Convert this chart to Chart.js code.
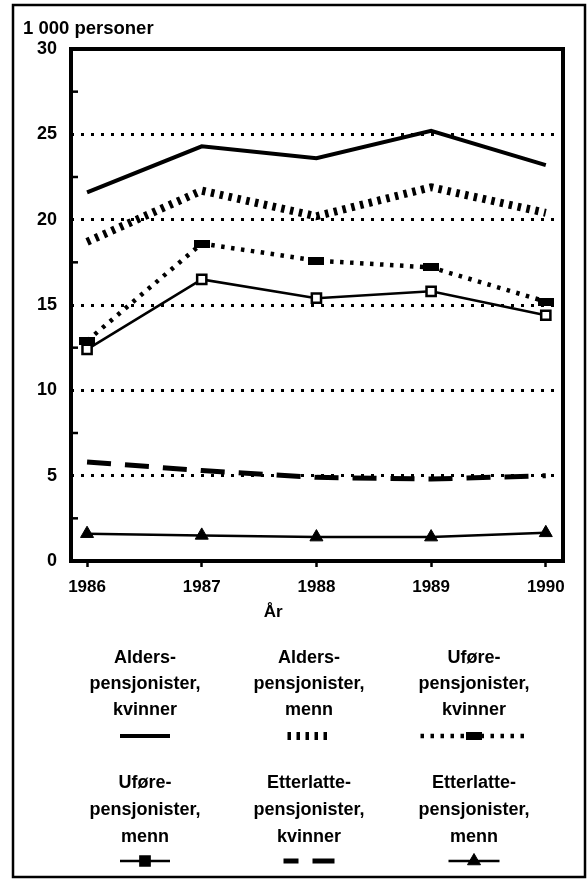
<!DOCTYPE html>
<html><head><meta charset="utf-8">
<script src="https://cdn.jsdelivr.net/npm/chart.js@4/dist/chart.umd.min.js"></script>
<style>html,body{margin:0;padding:0;background:#fff}#wrap{width:587px;height:880px}</style>
</head><body><div id="wrap"><canvas id="c" width="587" height="880"></canvas></div>
<script>
// ---- data ----
const years = [1986, 1987, 1988, 1989, 1990];
const yTicks = [0, 5, 10, 15, 20, 25, 30];
const aldersKvinner = [21.6, 24.3, 23.6, 25.2, 23.2];
const aldersMenn = [18.7, 21.7, 20.2, 21.9, 20.4];
const uforeKvinner = [12.9, 18.6, 17.6, 17.2, 15.2];
const uforeMenn = [12.4, 16.5, 15.4, 15.8, 14.4];
const etterlatteKvinner = [5.8, 5.3, 4.9, 4.8, 5.0];
const etterlatteMenn = [1.6, 1.5, 1.4, 1.4, 1.65];
const seriesLabels = [
  ["Alders-", "pensjonister,", "kvinner"],
  ["Alders-", "pensjonister,", "menn"],
  ["Uføre-", "pensjonister,", "kvinner"],
  ["Uføre-", "pensjonister,", "menn"],
  ["Etterlatte-", "pensjonister,", "kvinner"],
  ["Etterlatte-", "pensjonister,", "menn"]
];
const yTitle = "1 000 personer";
const xTitle = "År";

const FONT = '"Liberation Sans", Arial, Helvetica, sans-serif';

function barMarker() {
  const c = document.createElement('canvas');
  c.width = 16; c.height = 8;
  const g = c.getContext('2d');
  g.fillStyle = '#000';
  g.fillRect(0, 0, 16, 8);
  return c;
}
const bar = barMarker();

const pts = arr => arr.map((v, i) => ({x: years[i], y: v}));

const datasets = [
  {label: seriesLabels[0].join(' '), data: pts(aldersKvinner), borderColor: '#000', borderWidth: 4, pointRadius: 0, legendLen: 50},
  {label: seriesLabels[1].join(' '), data: pts(aldersMenn), borderColor: '#000', borderWidth: 8, borderDash: [3.5, 5.5], pointRadius: 0, legendLen: 43},
  {label: seriesLabels[2].join(' '), data: pts(uforeKvinner), borderColor: '#000', borderWidth: 4.5, borderDash: [3.5, 6.5], pointStyle: bar, pointRadius: 7, legendLen: 107},
  {label: seriesLabels[3].join(' '), data: pts(uforeMenn), borderColor: '#000', borderWidth: 2.5, pointStyle: 'rect', pointRadius: 6.5, pointBorderWidth: 2.5, pointBackgroundColor: '#fff', pointBorderColor: '#000', legendLen: 50},
  {label: seriesLabels[4].join(' '), data: pts(etterlatteKvinner), borderColor: '#000', borderWidth: 5, borderDash: [24, 14], pointRadius: 0, legendLen: 51, legendDash: [15, 14, 22, 14]},
  {label: seriesLabels[5].join(' '), data: pts(etterlatteMenn), borderColor: '#000', borderWidth: 2.5, pointStyle: 'triangle', pointRadius: 7.5, pointBackgroundColor: '#000', pointBorderColor: '#000', pointBorderWidth: 1, legendLen: 51}
];

const legendCols = [145, 309, 474];
const legendRows = [{text: [658, 684, 710], sample: 736}, {text: [783, 810, 837], sample: 861}];

const decor = {
  id: 'decor',
  beforeDraw(chart) {
    const ctx = chart.ctx;
    ctx.save();
    ctx.fillStyle = '#fff';
    ctx.fillRect(0, 0, chart.width, chart.height);
    ctx.restore();
  },
  afterDraw(chart) {
    const ctx = chart.ctx, a = chart.chartArea;
    const ys = chart.scales.y, xs = chart.scales.x;
    ctx.save();
    // outer frame
    ctx.strokeStyle = '#000';
    ctx.lineWidth = 2.5;
    ctx.strokeRect(13, 5, 572, 872);
    // plot box
    ctx.lineWidth = 4;
    ctx.strokeRect(a.left, a.top, a.right - a.left, a.bottom - a.top);
    // minor inward ticks at half steps
    ctx.lineWidth = 2.5;
    for (let i = 0; i < yTicks.length - 1; i++) {
      const v = (yTicks[i] + yTicks[i + 1]) / 2;
      const py = ys.getPixelForValue(v);
      ctx.beginPath(); ctx.moveTo(a.left, py); ctx.lineTo(a.left + 7, py); ctx.stroke();
    }
    // titles
    ctx.fillStyle = '#000';
    ctx.font = 'bold 18.5px ' + FONT;
    ctx.textBaseline = 'middle';
    ctx.textAlign = 'left';
    ctx.fillText(yTitle, 23, 29);
    ctx.font = 'bold 17px ' + FONT;
    ctx.textAlign = 'center';
    ctx.fillText(xTitle, (xs.getPixelForValue(years[1]) + xs.getPixelForValue(years[2])) / 2 + 14, 612);
    // legend
    chart.data.datasets.forEach((ds, i) => {
      const cx = legendCols[i % 3], row = legendRows[Math.floor(i / 3)];
      ctx.font = 'bold 18px ' + FONT;
      ctx.textAlign = 'center';
      ctx.textBaseline = 'middle';
      ctx.fillStyle = '#000';
      seriesLabels[i].forEach((t, j) => ctx.fillText(t, cx, row.text[j]));
      const L = ds.legendLen, y = row.sample;
      ctx.save();
      ctx.strokeStyle = '#000';
      ctx.lineWidth = ds.borderWidth;
      ctx.setLineDash(ds.legendDash || ds.borderDash || []);
      ctx.beginPath(); ctx.moveTo(cx - L / 2, y); ctx.lineTo(cx + L / 2, y); ctx.stroke();
      ctx.restore();
      if (ds.pointRadius > 0) {
        ctx.save();
        ctx.fillStyle = ds.pointStyle === 'rect' ? '#000' : (ds.pointBackgroundColor || '#000');
        ctx.strokeStyle = ds.pointBorderColor || '#000';
        ctx.lineWidth = ds.pointBorderWidth || 1;
        Chart.helpers.drawPoint(ctx, {pointStyle: ds.pointStyle, radius: ds.pointRadius, rotation: 0, borderWidth: ds.pointBorderWidth || 1}, cx, y);
        ctx.restore();
      }
    });
    ctx.restore();
  }
};

new Chart(document.getElementById('c'), {
  type: 'line',
  data: {datasets},
  options: {
    responsive: false,
    animation: false,
    events: [],
    layout: {padding: {top: 49, left: 0, right: 24, bottom: 259}},
    plugins: {legend: {display: false}, tooltip: {enabled: false}},
    elements: {line: {tension: 0, borderCapStyle: 'butt'}},
    scales: {
      x: {
        type: 'linear', min: 1985.86, max: 1990.15,
        afterBuildTicks: s => { s.ticks = years.map(v => ({value: v})); },
        afterFit: s => { s.height = 60; },
        grid: {drawOnChartArea: false, drawTicks: true, tickLength: 6, tickWidth: 2.5, tickColor: '#000', color: '#000'},
        border: {display: false},
        ticks: {color: '#000', font: {family: FONT, size: 17, weight: 'bold'}, padding: 10, maxRotation: 0, autoSkip: false, callback: v => String(v)}
      },
      y: {
        min: 0, max: 30,
        afterBuildTicks: s => { s.ticks = yTicks.map(v => ({value: v})); },
        afterFit: s => { s.width = 71; },
        grid: {drawTicks: false, lineWidth: 3, color: c => (c.tick && (c.tick.value === 0 || c.tick.value === 30)) ? 'rgba(0,0,0,0)' : '#000'},
        border: {display: false, dash: [3, 7]},
        ticks: {color: '#000', font: {family: FONT, size: 18, weight: 'bold'}, padding: 14}
      }
    }
  },
  plugins: [decor]
});
</script>
</body></html>
